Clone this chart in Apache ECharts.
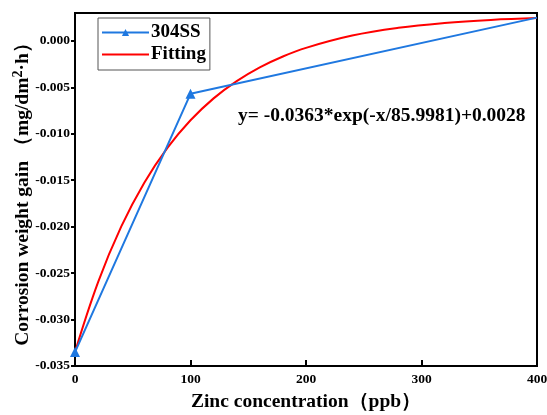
<!DOCTYPE html>
<html>
<head>
<meta charset="utf-8">
<script src="https://cdn.jsdelivr.net/npm/echarts@6/dist/echarts.min.js"></script>
<style>
  html, body { margin: 0; padding: 0; background: #fff; }
  #chart { width: 547px; height: 415px; }
</style>
</head>
<body>
<div id="chart"></div>
<script>
// Measured corrosion weight gain of 304SS vs zinc concentration
const zincPpb = [0, 100, 400];
const weightGain = [-0.0335, -0.0057, 0.0025];

// Exponential fit y = -0.0363*exp(-x/85.9981)+0.0028, tabulated
const fitPpb = [0, 20, 40, 60, 80, 100, 120, 140, 160, 180, 200, 240, 280, 320, 360, 400];
const fitGain = [-0.0335, -0.02597, -0.0200, -0.01527, -0.01152, -0.00855, -0.00619, -0.00433,
                 -0.00285, -0.00168, -0.00075, 0.00057, 0.00140, 0.00192, 0.00225, 0.00245];

const fitLabel = 'y= -0.0363*exp(-x/85.9981)+0.0028';
const seriesNames = ['304SS', 'Fitting'];

const FONT = 'Liberation Serif';
const BLUE = '#1f78e0';
const chart = echarts.init(document.getElementById('chart'));

chart.setOption({
  animation: false,
  backgroundColor: '#fff',
  grid: {
    left: 75, right: 10, top: 13, bottom: 49,
    outerBoundsMode: 'none',
    containLabel: false,
    show: true, borderColor: '#000', borderWidth: 2, backgroundColor: 'transparent'
  },
  legend: {
    left: 98, top: 18,
    orient: 'vertical',
    itemWidth: 47, itemHeight: 9, itemGap: 3,
    padding: [5, 4, 6, 3],
    borderColor: '#555', borderWidth: 1,
    textStyle: { fontFamily: FONT, fontWeight: 'bold', fontSize: 19, color: '#000', padding: [0, 0, 0, -3] },
    data: [
      { name: seriesNames[0] },
      { name: seriesNames[1], itemStyle: { opacity: 0 } }
    ]
  },
  xAxis: {
    type: 'value', min: 0, max: 400, interval: 100,
    name: 'Zinc concentration（ppb）',
    nameLocation: 'middle', nameGap: 25,
    nameTextStyle: { fontFamily: FONT, fontWeight: 'bold', fontSize: 19.5, color: '#000' },
    axisLine: { show: true, onZero: false, lineStyle: { color: '#000', width: 2 } },
    axisTick: { show: true, inside: true, length: 6, lineStyle: { color: '#000', width: 2 } },
    axisLabel: { fontFamily: FONT, fontWeight: 'bold', fontSize: 13.5, color: '#000', margin: 7 },
    splitLine: { show: false }
  },
  yAxis: {
    type: 'value', min: -0.035, max: 0.003, interval: 0.005,
    name: '{a|Corrosion weight gain （mg/dm}{s|2}{a|·h）}',
    nameLocation: 'middle', nameGap: 41, nameRotate: 90,
    nameMoveOverlap: false,
    nameTextStyle: {
      rich: {
        a: { fontFamily: FONT, fontWeight: 'bold', fontSize: 19.5, color: '#000' },
        s: { fontFamily: FONT, fontWeight: 'bold', fontSize: 14, color: '#000', padding: [0, 0, 9, 0] }
      }
    },
    axisLine: { show: true, onZero: false, lineStyle: { color: '#000', width: 2 } },
    axisTick: { show: true, inside: false, length: 4, lineStyle: { color: '#000', width: 2 } },
    axisLabel: {
      fontFamily: FONT, fontWeight: 'bold', fontSize: 13.5, color: '#000', margin: 5,
      showMaxLabel: false,
      formatter: v => (Math.abs(v) < 1e-9 ? 0 : v).toFixed(3)
    },
    splitLine: { show: false }
  },
  series: [
    {
      name: seriesNames[0],
      type: 'line',
      data: zincPpb.map((x, i) => {
        const item = { value: [x, weightGain[i]] };
        if (i === zincPpb.length - 1) item.symbol = 'none';
        return item;
      }),
      symbol: 'triangle', symbolSize: 10,
      lineStyle: { color: BLUE, width: 2 },
      itemStyle: { color: BLUE },
      z: 3
    },
    {
      name: seriesNames[1],
      type: 'line',
      data: fitPpb.map((x, i) => [x, fitGain[i]]),
      smooth: 0.4,
      symbol: 'none',
      lineStyle: { color: '#f00', width: 2 },
      itemStyle: { color: '#f00' },
      z: 2
    }
  ],
  graphic: [{
    type: 'text',
    left: 238, top: 106,
    style: { text: fitLabel, fontFamily: FONT, fontWeight: 'bold', fontSize: 19.5, fill: '#000' }
  }]
});
</script>
</body>
</html>
